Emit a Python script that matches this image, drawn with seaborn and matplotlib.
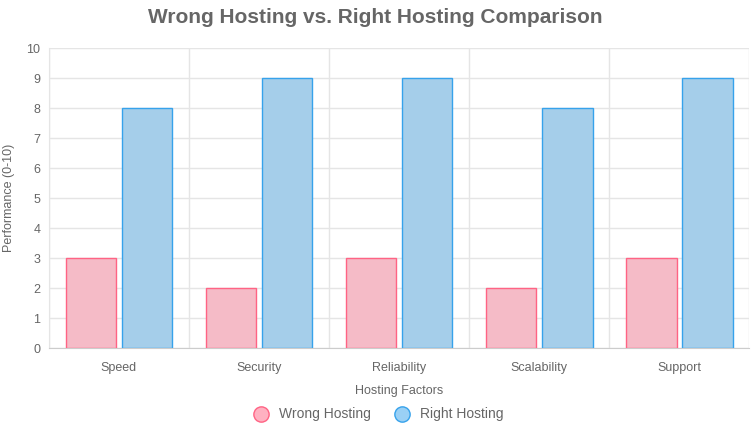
import matplotlib
matplotlib.use("Agg")
import matplotlib.pyplot as plt
import seaborn as sns
import pandas as pd
from matplotlib.lines import Line2D

categories = ["Speed", "Security", "Reliability", "Scalability", "Support"]
wrong = [3, 2, 3, 2, 3]
right = [8, 9, 9, 8, 9]
series = ["Wrong Hosting", "Right Hosting"]

df = pd.DataFrame({
    "Factor": categories * 2,
    "Score": wrong + right,
    "Series": [series[0]] * 5 + [series[1]] * 5,
})

sns.set_style("white")
plt.rcParams['font.family'] = ['Liberation Sans', 'DejaVu Sans']

fig = plt.figure(figsize=(7.51, 4.33), dpi=100)
ax = fig.add_axes([0.065, 0.196, 0.933, 0.693])
fills = {series[0]: "#ffb1c1", series[1]: "#9ad0f5"}
edges = {series[0]: "#ff6384", series[1]: "#36a2eb"}
sns.barplot(data=df, x="Factor", y="Score", hue="Series", palette=fills,
            width=0.8, gap=0.1, ax=ax, legend=False, zorder=3)
for i, patch in enumerate(ax.patches):
    patch.set_edgecolor(edges[series[0]] if i < 5 else edges[series[1]])
    patch.set_linewidth(1)

ax.set_xlim(-0.5, 4.5)
ax.set_ylim(0, 10)
ax.set_yticks(range(0, 11))
ax.set_xticks([i - 0.5 for i in range(6)], minor=True)
ax.grid(True, axis="y", color="#e5e5e5", lw=1, zorder=0)
ax.grid(True, axis="x", which="minor", color="#e5e5e5", lw=1, zorder=0)
for s in ["top", "right"]:
    ax.spines[s].set_visible(False)
ax.spines["left"].set_color("#e5e5e5")
ax.spines["bottom"].set_color("#cccccc")
ax.tick_params(axis="both", which="both", colors="#666666", labelsize=9, length=0, pad=6)
ax.tick_params(axis="x", which="minor", length=6, color="#e5e5e5")
ax.tick_params(axis="x", which="major", pad=10)
ax.set_xlabel("Hosting Factors", color="#666666", fontsize=9, labelpad=8)
ax.set_ylabel("Performance (0-10)", color="#666666", fontsize=9, labelpad=8)

fig.text(0.5, 0.96, "Wrong Hosting vs. Right Hosting Comparison", ha="center", va="center",
         fontsize=15, fontweight="bold", color="#666666")
handles = [Line2D([], [], marker="o", ls="", markersize=11, markerfacecolor=fills[s],
                  markeredgecolor=edges[s]) for s in series]
fig.legend(handles, series, loc="center", bbox_to_anchor=(0.5, 0.043), ncol=2, frameon=False,
           fontsize=10, labelcolor="#666666", handletextpad=0.3, columnspacing=1.2)
fig.savefig("out.png", dpi=100)
